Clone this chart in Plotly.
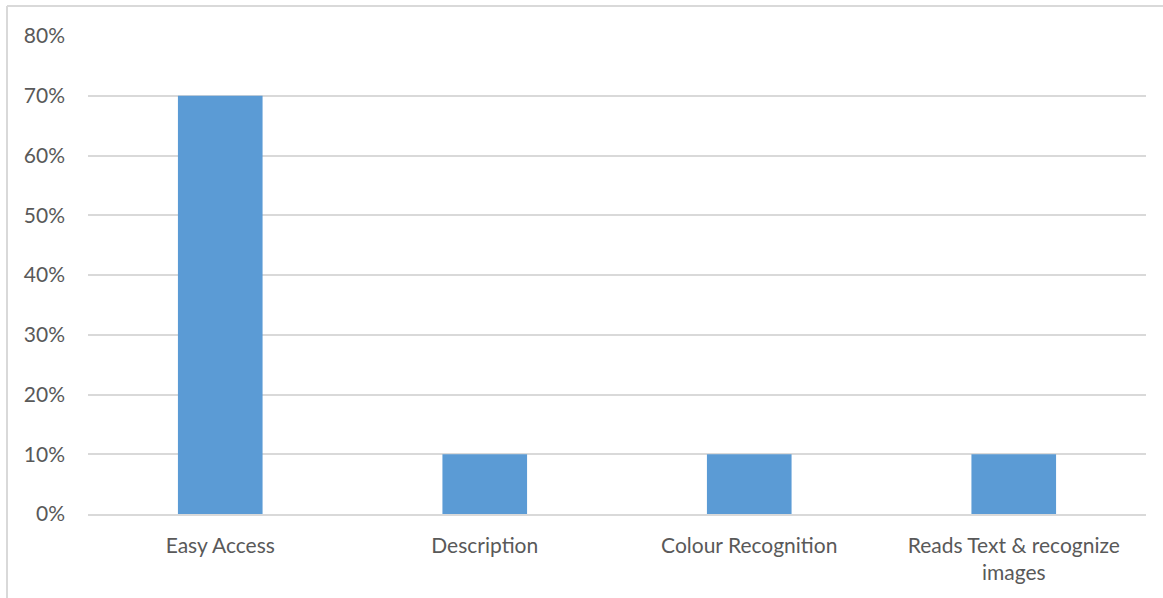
import plotly.graph_objects as go

categories = ["Easy Access", "Description", "Colour Recognition", "Reads Text & recognize<br>images"]
values = [0.70, 0.10, 0.10, 0.10]
y_ticks = [0, 0.1, 0.2, 0.3, 0.4, 0.5, 0.6, 0.7, 0.8]
y_tick_labels = ["0%", "10%", "20%", "30%", "40%", "50%", "60%", "70%", "80%"]

W, H = 1163, 598
L, R, T, B = 88, 17, 36, 84
pw, ph = W - L - R, H - T - B

def px_x(p):
    return (p - L) / pw

def px_y(p):
    return (H - B - p) / ph

fig = go.Figure(go.Bar(
    x=categories, y=values,
    marker=dict(color="#5b9bd5", line=dict(width=0)),
    hoverinfo="skip",
))

grid = "#d9d9d9"
fig.update_layout(
    width=W, height=H,
    margin=dict(l=L, r=R, t=T, b=B),
    paper_bgcolor="white", plot_bgcolor="white",
    bargap=0.68,
    showlegend=False,
    font=dict(family="Lato, Open Sans, sans-serif", size=21, color="#595959"),
    xaxis=dict(showgrid=False, showline=True, linecolor=grid, linewidth=1.5,
               ticks="", ticklabelstandoff=12, tickfont=dict(size=21),
               fixedrange=True),
    yaxis=dict(range=[0, 0.8], tickvals=y_ticks, ticktext=y_tick_labels,
               showgrid=True, gridcolor=grid, gridwidth=1.5, zeroline=False,
               showline=False, ticks="", ticklabelstandoff=22,
               tickfont=dict(size=21), fixedrange=True),
    shapes=[
        dict(type="line", xref="paper", yref="paper",
             x0=px_x(7), x1=px_x(W), y0=px_y(6), y1=px_y(6),
             line=dict(color=grid, width=2)),
        dict(type="line", xref="paper", yref="paper",
             x0=px_x(7), x1=px_x(7), y0=px_y(6), y1=px_y(H),
             line=dict(color=grid, width=2)),
    ],
)

fig.write_html("out.html")
